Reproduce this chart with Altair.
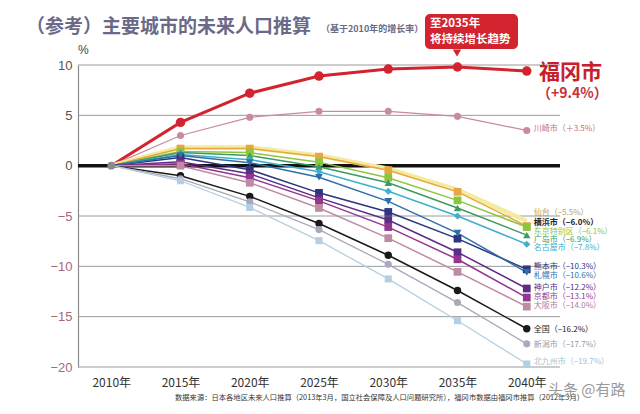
import altair as alt
import pandas as pd

FONT = "Noto Sans CJK SC"

years = [2010, 2015, 2020, 2025, 2030, 2035, 2040]

cities = ["福冈市", "川崎市", "仙台", "横浜市", "东京特别区", "广岛市", "名古屋市",
          "熊本市", "札幌市", "神户市", "京都市", "大阪市", "全国", "新潟市", "北九州市"]

fukuoka    = [0, 4.3, 7.2, 8.9, 9.6, 9.8, 9.4]
kawasaki   = [0, 3.0, 4.8, 5.4, 5.4, 4.9, 3.5]
sendai     = [0, 1.8, 1.8, 1.0, -0.3, -2.4, -5.5]
yokohama   = [0, 1.7, 1.7, 0.9, -0.45, -2.6, -6.0]
tokyo      = [0, 1.4, 1.3, 0.35, -1.2, -3.45, -6.1]
hiroshima  = [0, 1.3, 1.0, -0.1, -1.7, -4.2, -6.9]
nagoya     = [0, 1.1, 0.6, -0.6, -2.55, -5.0, -7.8]
kumamoto   = [0, 0.8, -0.4, -2.7, -4.6, -7.25, -10.3]
sapporo    = [0, 1.0, 0.3, -1.15, -3.55, -6.7, -10.6]
kobe       = [0, 0.4, -0.8, -3.2, -5.4, -8.6, -12.2]
kyoto      = [0, 0.2, -1.2, -3.5, -6.1, -9.3, -13.1]
osaka      = [0, 0.0, -1.7, -4.2, -7.2, -10.55, -14.0]
national   = [0, -1.0, -3.05, -5.75, -8.9, -12.4, -16.2]
niigata    = [0, -1.3, -3.6, -6.35, -9.8, -13.6, -17.7]
kitakyushu = [0, -1.5, -4.15, -7.45, -11.25, -15.4, -19.7]

series = [fukuoka, kawasaki, sendai, yokohama, tokyo, hiroshima, nagoya,
          kumamoto, sapporo, kobe, kyoto, osaka, national, niigata, kitakyushu]

end_labels = ["仙台（−5.5%）", "横浜市（−6.0%）", "东京特别区（−6.1%）", "广岛市（−6.9%）",
              "名古屋市（−7.8%）", "熊本市（−10.3%）", "札幌市（−10.6%）", "神户市（−12.2%）",
              "京都市（−13.1%）", "大阪市（−14.0%）", "全国（−16.2%）", "新潟市（−17.7%）",
              "北九州市（−19.7%）", "川崎市（＋3.5%）"]
label_y = [-4.75, -5.65, -6.55, -7.35, -8.15, -10.05, -10.95, -12.2, -13.05, -13.95,
           -16.3, -17.8, -19.55, 3.65]

y_ticks = [-20, -15, -10, -5, 0, 5, 10]

# styles
line_colors = ["#d2232e", "#c98a9c", "#f3eca0", "#e9a640", "#8cc63f", "#3c9a62", "#3fb0cc",
               "#2b3580", "#2f6fa8", "#5b2d84", "#94358f", "#bf8aa6", "#1a1a1a", "#a9a9bd", "#b4cfe2"]
marker_colors = ["#d2232e", "#d8708e", "#f3eca0", "#f0a030", "#8cc63f", "#2f9a5a", "#3fb0cc",
                 "#2b3580", "#2f6fa8", "#5b2d84", "#94358f", "#c48aa8", "#1a1a1a", "#a9a9bd", "#b4cfe2"]
shapes = ["circle", "circle", "circle", "square", "square", "triangle-up", "diamond",
          "square", "triangle-down", "square", "square", "square", "circle", "circle", "square"]
widths = [3, 1.2, 4.5, 1.5, 1.5, 1.5, 1.5, 1.5, 1.5, 1.5, 1.5, 1.5, 1.5, 1.3, 1.3]
msizes = [90, 50, 0, 60, 60, 55, 50, 60, 60, 60, 60, 60, 55, 50, 50]
label_colors = ["#b8a26a", "#222222", "#8cc63f", "#3c9a62", "#3fb0cc", "#2b3580", "#2f6fa8",
                "#5b2d84", "#94358f", "#b07a98", "#1a1a1a", "#9a9aa6", "#a6c6cc", "#c0708a"]

rows = []
for i, (c, vals) in enumerate(zip(cities, series)):
    for y, v in zip(years, vals):
        rows.append({"city": c, "year": y, "value": v, "order": i,
                     "w": widths[i], "msize": msizes[i]})
df = pd.DataFrame(rows)

lab_df = pd.DataFrame({"label": end_labels, "y": label_y,
                       "x": [2040.5] * len(end_labels), "col": label_colors,
                       "bold": [1 if l.startswith("横浜") else 0 for l in end_labels]})

xs = alt.Scale(domain=[2007.6, 2042.4], nice=False, zero=False)
ys = alt.Scale(domain=[-20, 10], nice=False, zero=False)
color_scale = alt.Scale(domain=cities, range=line_colors)
mcolor_scale = alt.Scale(domain=cities, range=marker_colors)
shape_scale = alt.Scale(domain=cities, range=shapes)

base = alt.Chart(df)

grid = alt.Chart(pd.DataFrame({"t": y_ticks})).mark_rule(color="#9a9a9a", strokeWidth=1).encode(
    y=alt.Y("t:Q", scale=ys,
            axis=alt.Axis(values=y_ticks, title=None, grid=False, ticks=False, domain=True,
                          domainColor="#8a8a8a", domainWidth=1.2, labelFont="Liberation Sans",
                          labelFontSize=13, labelPadding=6,
                          labelColor={"condition": {"test": "datum.value < 0", "value": "#a8677c"},
                                      "value": "#555555"})),
)

zero = alt.Chart(pd.DataFrame({"t": [0]})).mark_rule(color="#111111", strokeWidth=3.5).encode(
    y=alt.Y("t:Q", scale=ys))

lines = base.mark_line().encode(
    x=alt.X("year:Q", scale=xs,
            axis=alt.Axis(values=years, title=None, grid=False, ticks=False, domain=False,
                          labelExpr="datum.value + '年'", labelFont=FONT, labelFontSize=12,
                          labelColor="#333333", labelPadding=10)),
    y=alt.Y("value:Q", scale=ys),
    color=alt.Color("city:N", scale=color_scale, legend=None),
    strokeWidth=alt.StrokeWidth("w:Q", scale=None),
    detail="city:N",
    order=alt.Order("year:Q"),
)

pts = base.transform_filter("datum.year > 2010 && datum.msize > 0").mark_point(
    filled=True, opacity=1).encode(
    x=alt.X("year:Q", scale=xs),
    y=alt.Y("value:Q", scale=ys),
    color=alt.Color("city:N", scale=mcolor_scale, legend=None),
    shape=alt.Shape("city:N", scale=shape_scale, legend=None),
    size=alt.Size("msize:Q", scale=None),
)

origin = alt.Chart(pd.DataFrame({"year": [2010], "value": [0]})).mark_point(
    filled=True, color="#8a8a8a", size=60, opacity=1).encode(
    x=alt.X("year:Q", scale=xs), y=alt.Y("value:Q", scale=ys))

lab_base = alt.Chart(lab_df)
labels = lab_base.transform_filter("datum.bold == 0").mark_text(
    align="left", baseline="middle", font=FONT, fontSize=8).encode(
    x=alt.X("x:Q", scale=xs), y=alt.Y("y:Q", scale=ys),
    text="label:N", color=alt.Color("col:N", scale=None),
)
labels_b = lab_base.transform_filter("datum.bold == 1").mark_text(
    align="left", baseline="middle", font=FONT, fontSize=8, fontWeight="bold").encode(
    x=alt.X("x:Q", scale=xs), y=alt.Y("y:Q", scale=ys),
    text="label:N", color=alt.Color("col:N", scale=None),
)

def txt(s, x, y, size, color, weight="normal", align="left", font=FONT):
    return alt.Chart(pd.DataFrame({"s": [s]})).mark_text(
        align=align, baseline="middle", fontSize=size, color=color, fontWeight=weight, font=font
    ).encode(text="s:N", x=alt.value(x), y=alt.value(y))

# callout box
box = alt.Chart(pd.DataFrame({"a": [0]})).mark_rect(color="#d2232e", cornerRadius=5).encode(
    x=alt.value(347), x2=alt.value(440), y=alt.value(-51), y2=alt.value(-16))
pointer = alt.Chart(pd.DataFrame({"a": [0]})).mark_point(
    shape="triangle-down", filled=True, color="#d2232e", size=70, opacity=1).encode(
    x=alt.value(379), y=alt.value(-12))

annots = [
    txt("（参考）主要城市的未来人口推算", -52, -38, 19, "#6a6a88", "bold"),
    txt("（基于2010年的增长率）", 243, -36, 9, "#6a6a88", "bold"),
    txt("%", 0, -15, 12, "#444444", font="Liberation Sans"),
    txt("至2035年", 352, -41, 11.5, "#ffffff", "bold"),
    txt("将持续增长趋势", 352, -25, 11.5, "#ffffff", "bold"),
    txt("福冈市", 461, 8, 21, "#c8202a", "bold"),
    txt("（+9.4%）", 459, 29, 14, "#c8303a", "bold"),
    txt("数据来源：日本各地区未来人口推算（2013年3月，国立社会保障及人口问题研究所），福冈市数据由福冈市推算（2012年3月）",
        97, 333, 7.3, "#333333"),
    txt("头条 @有路", 470, 325, 15, "#9a9a9a"),
]

chart = alt.layer(grid, zero, lines, pts, origin, labels, labels_b, box, pointer, *annots).properties(
    width=482, height=302,
    autosize=alt.AutoSizeParams(type="none"),
    padding={"left": 70, "top": 57, "right": 72, "bottom": 39},
    background="white",
).configure_view(strokeWidth=0)

chart.save("out.html", embed_options={"renderer": "svg", "actions": False})
